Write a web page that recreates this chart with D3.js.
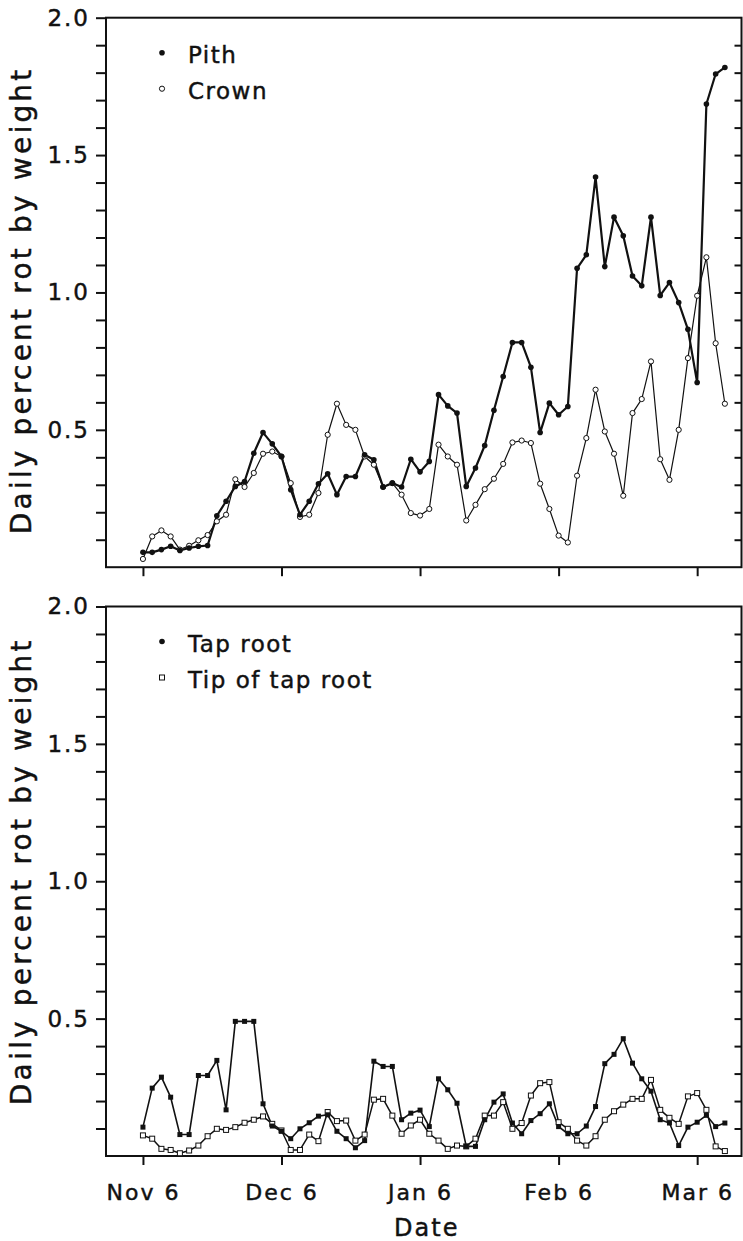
<!DOCTYPE html>
<html>
<head>
<meta charset="utf-8">
<title>Daily percent rot by weight</title>
<script src="https://d3js.org/d3.v7.min.js"></script>
<style>
  body { margin: 0; background: #fff; }
  svg { display: block; }
  text { font-family: "DejaVu Sans", sans-serif; fill: #111; stroke: #111; stroke-width: 0.45px; }
</style>
</head>
<body>
<script>
// sampling days, counted from Nov 6
var days = [0, 2, 4, 6, 8, 10, 12, 14, 16, 18, 20, 22, 24, 26, 28, 30,
  32, 34, 36, 38, 40, 42, 44, 46, 48, 50, 52, 54, 56, 58, 60, 62,
  64, 66, 68, 70, 72, 74, 76, 78, 80, 82, 84, 86, 88, 90, 92, 94,
  96, 98, 100, 102, 104, 106, 108, 110, 112, 114, 116, 118, 120, 122, 124, 126];

var pith = [0.054, 0.054, 0.064, 0.076, 0.061, 0.070, 0.076, 0.079, 0.187, 0.240, 0.294, 0.312, 0.415, 0.490, 0.449, 0.403,
  0.282, 0.191, 0.240, 0.304, 0.340, 0.264, 0.330, 0.330, 0.409, 0.391, 0.292, 0.306, 0.292, 0.393, 0.347, 0.385,
  0.628, 0.587, 0.561, 0.294, 0.361, 0.443, 0.571, 0.694, 0.818, 0.818, 0.728, 0.490, 0.597, 0.555, 0.585, 1.088,
  1.137, 1.420, 1.094, 1.274, 1.206, 1.060, 1.024, 1.274, 0.989, 1.036, 0.963, 0.866, 0.672, 1.686, 1.795, 1.819];

var crown = [0.030, 0.112, 0.134, 0.112, 0.064, 0.078, 0.098, 0.117, 0.167, 0.191, 0.320, 0.292, 0.343, 0.413, 0.421, 0.403,
  0.306, 0.183, 0.191, 0.270, 0.482, 0.595, 0.518, 0.500, 0.403, 0.373, 0.292, 0.306, 0.264, 0.197, 0.188, 0.212,
  0.446, 0.403, 0.373, 0.170, 0.227, 0.284, 0.322, 0.376, 0.454, 0.461, 0.452, 0.304, 0.212, 0.115, 0.090, 0.333,
  0.470, 0.646, 0.494, 0.413, 0.260, 0.561, 0.612, 0.749, 0.393, 0.318, 0.500, 0.761, 0.988, 1.128, 0.815, 0.595];

var tapRoot = [0.105, 0.247, 0.287, 0.214, 0.078, 0.078, 0.293, 0.293, 0.348, 0.168, 0.490, 0.490, 0.490, 0.190, 0.109, 0.090,
  0.063, 0.099, 0.121, 0.145, 0.150, 0.090, 0.063, 0.030, 0.056, 0.345, 0.326, 0.326, 0.132, 0.156, 0.167, 0.107,
  0.281, 0.241, 0.192, 0.035, 0.035, 0.132, 0.196, 0.226, 0.120, 0.081, 0.129, 0.154, 0.190, 0.107, 0.081, 0.081,
  0.109, 0.180, 0.336, 0.370, 0.427, 0.338, 0.281, 0.236, 0.132, 0.120, 0.038, 0.105, 0.123, 0.148, 0.107, 0.120];

var tipRoot = [0.075, 0.063, 0.026, 0.022, 0.010, 0.020, 0.038, 0.072, 0.099, 0.095, 0.105, 0.121, 0.132, 0.144, 0.117, 0.093,
  0.022, 0.022, 0.078, 0.054, 0.160, 0.127, 0.129, 0.056, 0.078, 0.205, 0.208, 0.147, 0.081, 0.111, 0.132, 0.081,
  0.056, 0.026, 0.038, 0.035, 0.063, 0.147, 0.147, 0.196, 0.099, 0.120, 0.220, 0.265, 0.269, 0.123, 0.099, 0.056,
  0.038, 0.072, 0.132, 0.163, 0.187, 0.208, 0.208, 0.277, 0.168, 0.139, 0.117, 0.217, 0.229, 0.168, 0.035, 0.018];

var monthTicks = [0, 30, 60, 90, 120];
var monthLabels = ["Nov 6", "Dec 6", "Jan 6", "Feb 6", "Mar 6"];
var yLabelTicks = [0.5, 1.0, 1.5, 2.0];

//Width and height
var w = 743;
var h = 1241;
var left = 106, right = 741.5;
var panelH = 549.5;
var panelTops = [17.7, 606.5];

var svg = d3.select("body")
  .append("svg")
  .attr("width", w)
  .attr("height", h);

var x = d3.scaleLinear().domain([-8, 129.6]).range([left, right]);

var minor = d3.range(1, 21).map(function(i) { return i / 10; });

function drawPanel(top, series, legend, showDates, titleShift) {
  var y = d3.scaleLinear().domain([0, 2]).range([top + panelH, top]);
  var g = svg.append("g");

  //frame
  g.append("rect")
    .attr("x", left).attr("y", top)
    .attr("width", right - left).attr("height", panelH)
    .attr("fill", "none").attr("stroke", "#111").attr("stroke-width", 2);

  //left axis, outward ticks
  var ya = g.append("g")
    .attr("transform", "translate(" + left + ",0)")
    .call(d3.axisLeft(y).tickValues(minor).tickSize(10).tickPadding(6)
      .tickFormat(function(d) {
        return yLabelTicks.some(function(v) { return Math.abs(v - d) < 1e-6; }) ? d3.format(".1f")(d) : "";
      }));
  ya.select(".domain").remove();
  ya.selectAll("line").attr("stroke", "#111").attr("stroke-width", 2);
  ya.selectAll("text").style("font-size", "23px").style("letter-spacing", "2px").attr("fill", "#111");

  //right axis, inward ticks
  var yr = g.append("g")
    .attr("transform", "translate(" + right + ",0)")
    .call(d3.axisRight(y).tickValues(minor.slice(0, 19)).tickSize(-7).tickFormat(""));
  yr.select(".domain").remove();
  yr.selectAll("line").attr("stroke", "#111").attr("stroke-width", 2);

  //bottom axis, outward ticks
  var xa = g.append("g")
    .attr("transform", "translate(0," + (top + panelH) + ")")
    .call(d3.axisBottom(x).tickValues(monthTicks).tickSize(9).tickPadding(19)
      .tickFormat(function(d, i) { return showDates ? monthLabels[i] : ""; }));
  xa.select(".domain").remove();
  xa.selectAll("line").attr("stroke", "#111").attr("stroke-width", 2);
  xa.selectAll("text").style("font-size", "22px").style("letter-spacing", "2px").attr("fill", "#111");

  //y title
  g.append("text")
    .attr("transform", "translate(31," + (top + panelH / 2 + titleShift) + ") rotate(-90)")
    .attr("text-anchor", "middle")
    .style("font-size", "28px")
    .style("letter-spacing", "3.2px")
    .text("Daily percent rot by weight");

  var line = d3.line()
    .x(function(d) { return x(d[0]); })
    .y(function(d) { return y(d[1]); });

  series.forEach(function(s) {
    var pts = days.map(function(d, i) { return [d, s.values[i]]; });
    g.append("path")
      .datum(pts)
      .attr("d", line)
      .attr("fill", "none")
      .attr("stroke", "#111")
      .attr("stroke-width", s.width)
      .attr("stroke-linejoin", "round");
  });

  series.forEach(function(s) {
    var pts = days.map(function(d, i) { return [d, s.values[i]]; });
    drawMarks(g, pts.map(function(p) { return [x(p[0]), y(p[1])]; }), s.mark);
  });

  //legend
  legend.forEach(function(l, i) {
    var ly = top + 45 + i * 36;
    drawMarks(g, [[162, ly - 10]], l.mark === "square-fill" ? "dot" : l.mark);
    g.append("text")
      .attr("x", 188).attr("y", ly)
      .style("font-size", "23px")
      .style("letter-spacing", "1.5px")
      .text(l.name);
  });
}

function drawMarks(g, pts, mark) {
  if (mark === "dot" || mark === "ring") {
    g.selectAll(null).data(pts).enter().append("circle")
      .attr("cx", function(p) { return p[0]; })
      .attr("cy", function(p) { return p[1]; })
      .attr("r", mark === "dot" ? 2.8 : 2.6)
      .attr("fill", mark === "dot" ? "#111" : "#fff")
      .attr("stroke", "#111")
      .attr("stroke-width", mark === "dot" ? 0 : 1);
  } else {
    var s = 5;
    g.selectAll(null).data(pts).enter().append("rect")
      .attr("x", function(p) { return p[0] - s / 2; })
      .attr("y", function(p) { return p[1] - s / 2; })
      .attr("width", s).attr("height", s)
      .attr("fill", mark === "square-fill" ? "#111" : "#fff")
      .attr("stroke", "#111")
      .attr("stroke-width", mark === "square-fill" ? 0 : 1);
  }
}

drawPanel(panelTops[0],
  [{ values: crown, width: 1.2, mark: "ring" }, { values: pith, width: 2.2, mark: "dot" }],
  [{ name: "Pith", mark: "dot" }, { name: "Crown", mark: "ring" }],
  false, 8);

drawPanel(panelTops[1],
  [{ values: tipRoot, width: 1.5, mark: "square" }, { values: tapRoot, width: 1.6, mark: "square-fill" }],
  [{ name: "Tap root", mark: "square-fill" }, { name: "Tip of tap root", mark: "square" }],
  true, -10);

svg.append("text")
  .attr("x", (left + right) / 2 + 3)
  .attr("y", 1236)
  .attr("text-anchor", "middle")
  .style("font-size", "24px")
  .style("letter-spacing", "2px")
  .text("Date");
</script>
</body>
</html>
